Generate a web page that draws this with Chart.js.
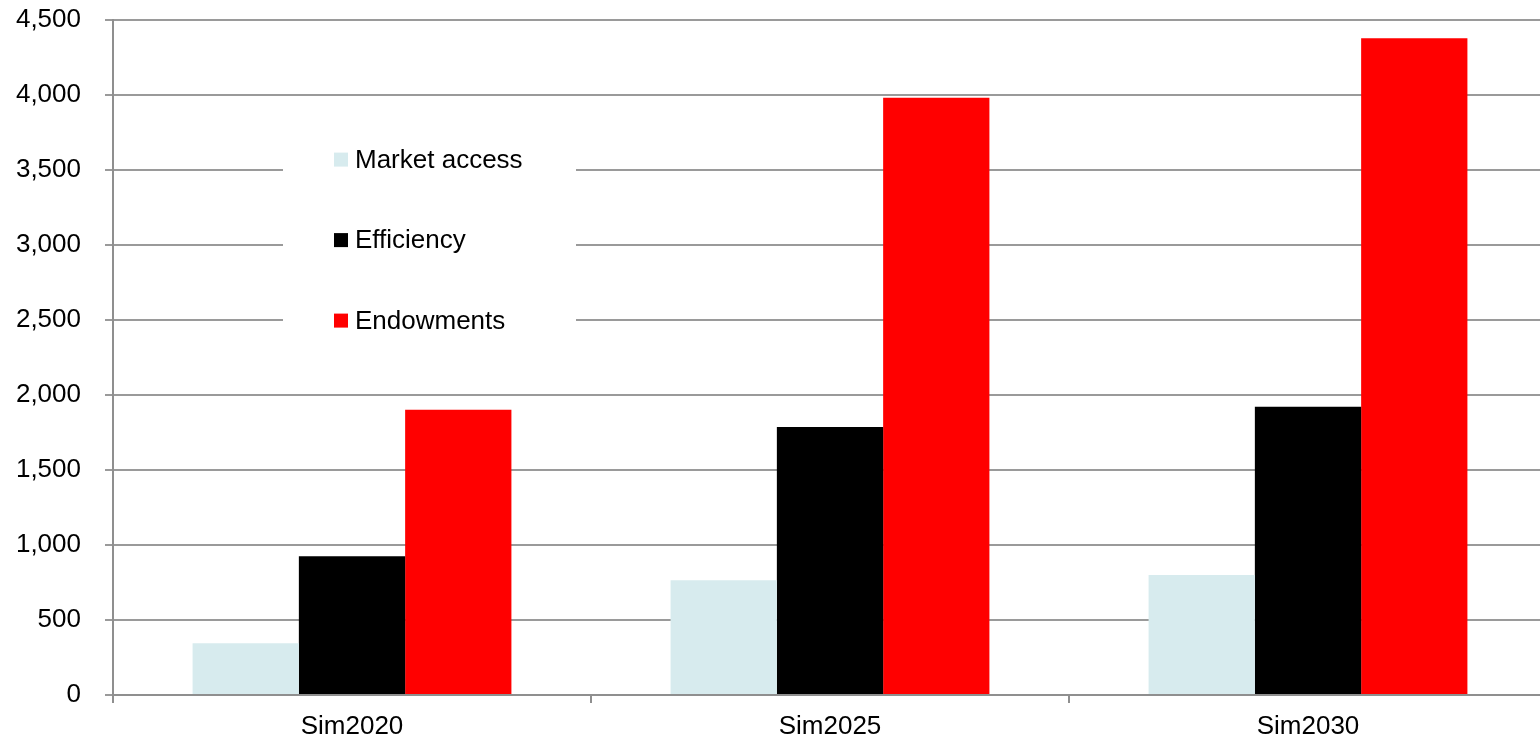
<!DOCTYPE html>
<html>
<head>
<meta charset="utf-8">
<script src="https://cdn.jsdelivr.net/npm/chart.js@4.4.1/dist/chart.umd.min.js"></script>
<style>
  html, body { margin: 0; padding: 0; background: #fff; overflow: hidden; }
  #wrap { position: absolute; left: 0; top: -20px; width: 1547px; height: 760px; }
</style>
</head>
<body>
<div id="wrap"><canvas id="chart"></canvas></div>
<script>
const categories = ['Sim2020', 'Sim2025', 'Sim2030'];
const seriesNames = ['Market access', 'Efficiency', 'Endowments'];
const marketAccess = [345, 765, 800];
const efficiency = [925, 1785, 1920];
const endowments = [1900, 3980, 4375];
const yTicks = [0, 500, 1000, 1500, 2000, 2500, 3000, 3500, 4000, 4500];

const colors = ['#d7ebee', '#000000', '#ff0000'];
const fontFamily = '"Liberation Sans", Arial, sans-serif';

// legend sits inside the plot on a white panel that hides the grid behind it
const boxLegend = {
    id: 'boxLegend',
    beforeDatasetsDraw(chart) {
        const ctx = chart.ctx;
        const x0 = chart.chartArea.left;
        const y0 = chart.chartArea.top;
        ctx.save();
        ctx.fillStyle = '#ffffff';
        ctx.fillRect(x0 + 170, y0 + 90, 293, 260);
        ctx.font = '26px ' + fontFamily;
        ctx.textBaseline = 'middle';
        chart.data.datasets.forEach((ds, i) => {
            const cy = y0 + 140 + i * 80.5;
            ctx.fillStyle = ds.backgroundColor;
            ctx.fillRect(x0 + 221, cy - 7, 14, 14);
            ctx.fillStyle = '#000';
            ctx.fillText(ds.label, x0 + 242, cy + 1);
        });
        ctx.restore();
    }
};

const seriesData = [marketAccess, efficiency, endowments];

new Chart(document.getElementById('chart').getContext('2d'), {
    type: 'bar',
    data: {
        labels: categories,
        datasets: seriesNames.map((name, i) => ({
            label: name,
            data: seriesData[i],
            backgroundColor: colors[i],
            borderWidth: 0,
            categoryPercentage: 0.667,
            barPercentage: 1
        }))
    },
    options: {
        responsive: true,
        maintainAspectRatio: false,
        animation: false,
        layout: {padding: 0},
        plugins: {
            legend: {display: false},
            tooltip: {enabled: false}
        },
        scales: {
            x: {
                grid: {drawOnChartArea: false, drawTicks: true, tickLength: 8, color: '#8f8f8f', lineWidth: 2},
                border: {color: '#8f8f8f', width: 2},
                ticks: {color: '#000', font: {family: fontFamily, size: 26}, padding: 8},
                afterFit: s => { s.height = 45; }
            },
            y: {
                min: 0,
                max: 4500,
                afterBuildTicks: s => { s.ticks = yTicks.map(v => ({value: v})); },
                grid: {color: '#9a9a9a', lineWidth: 2, tickLength: 8},
                border: {color: '#8f8f8f', width: 2},
                ticks: {
                    color: '#000',
                    font: {family: fontFamily, size: 26},
                    padding: 24,
                    callback: v => v.toLocaleString('en-US')
                },
                afterFit: s => { s.width = 113; }
            }
        }
    },
    plugins: [boxLegend]
});
</script>
</body>
</html>
